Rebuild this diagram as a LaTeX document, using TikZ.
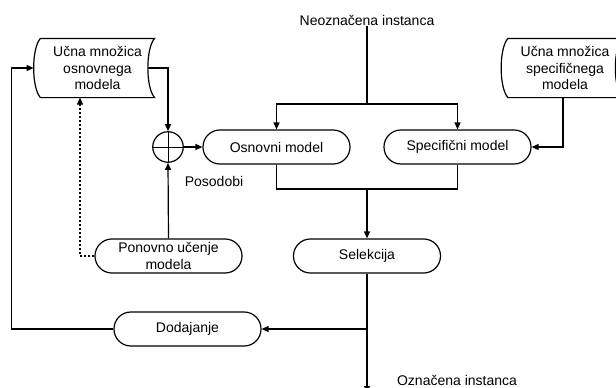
\documentclass[tikz,border=0pt]{standalone}
\usepackage{fontspec}
\setmainfont{Liberation Sans}
\usetikzlibrary{arrows.meta}
\begin{document}
\begin{tikzpicture}[x=1pt,y=-1pt, line width=1.2pt,
  font=\fontsize{14}{16.6}\selectfont,
  term/.style={draw, rounded corners=16.9pt, minimum width=147pt, minimum height=34pt, inner sep=0pt, align=center},
  store/.style={minimum width=113pt, minimum height=58pt, inner sep=0pt, align=center},
  arr/.style={-{Triangle[length=7pt,width=6pt]}},
  lbl/.style={inner sep=0pt, anchor=base},
  plusnode/.style={draw, circle, minimum size=30.5pt, inner sep=0pt,
    path picture={\draw[line width=0.7pt] (path picture bounding box.north) -- (path picture bounding box.south)
      (path picture bounding box.west) -- (path picture bounding box.east);}}]
\useasboundingbox (0,0) rectangle (616,388);
\clip (0,0) rectangle (616,388);

% nodes
\node[lbl] (ni) at (367,25) {Neoznačena instanca};
\node[term] (osn) at (276.5,147) {Osnovni model};
\node[term] (spec) at (457.5,147) {Specifični model};
\node[term] (sel) at (367,256) {Selekcija};
\node[term] (pon) at (168.5,256) {Ponovno učenje\\modela};
\node[term] (dod) at (187.5,329) {Dodajanje};
\node[store] (uo) at (97.5,68) {Učna množica\\osnovnega\\modela};
\node[store] (us) at (565,68) {Učna množica\\specifičnega\\modela};
\node[plusnode] (plus) at (168,147) {};
\node[lbl] (pos) at (214,186) {Posodobi};
\node[lbl] (oi) at (457,385) {Označena instanca};

% stored data outlines
\draw (uo.north west) -- (uo.north east) .. controls +(-9,10) and +(-9,-10) .. (uo.south east)
  -- (uo.south west) .. controls +(-9,-10) and +(-9,10) .. (uo.north west) -- cycle;
\draw (us.north west) -- (us.north east) .. controls +(-9,10) and +(-9,-10) .. (us.south east)
  -- (us.south west) .. controls +(-9,-10) and +(-9,10) .. (us.north west) -- cycle;

% coordinates
\coordinate (split) at (367,104);
\coordinate (merge) at (367,189);
\coordinate (br) at (367,329);
\coordinate (out) at (367,393);

% connectors
\draw (ni.south) -- (split);
\draw[arr] (split) -| (osn.north);
\draw[arr] (split) -| (spec.north);
\draw (osn.south) |- (merge);
\draw (spec.south) |- (merge);
\draw[arr] (merge) -- (sel.north);
\draw[arr] (sel.south) -- (out);
\draw[arr] (br) -- (dod.east);
\draw[arr] (dod.west) -- ++(-102,0) |- ([xshift=-6.75pt]uo.west);
\draw[arr] ([xshift=-6.75pt]uo.east) -| (plus.north);
\draw[arr] (plus.east) -- (osn.west);
\draw[arr] (pon.north) -- (plus.south);
\draw[arr, dash pattern=on 2pt off 2pt] (pon.west) -| ([xshift=-17.5pt]uo.south);
\draw[arr] ([xshift=-2pt]us.south) |- (spec.east);
\end{tikzpicture}
\end{document}
